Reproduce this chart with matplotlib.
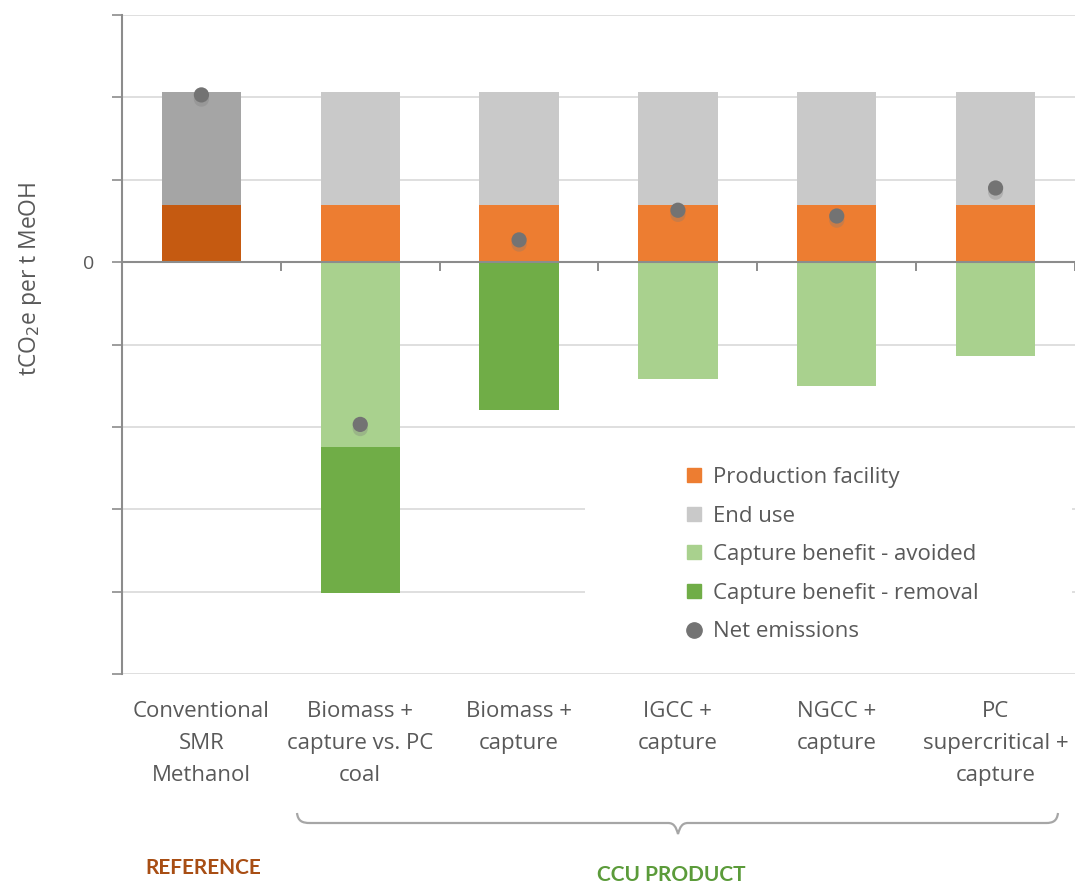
import matplotlib
matplotlib.use("Agg")
import matplotlib.pyplot as plt
import matplotlib.patheffects as pe
import matplotlib.transforms as mtransforms
from matplotlib.path import Path
from matplotlib.patches import PathPatch, Rectangle
from matplotlib.lines import Line2D
import numpy as np

# ---- data (tCO2e per t MeOH) ----
categories = ["Conventional\nSMR\nMethanol", "Biomass +\ncapture vs. PC\ncoal",
              "Biomass +\ncapture", "IGCC +\ncapture", "NGCC +\ncapture",
              "PC\nsupercritical +\ncapture"]
production = [0.69, 0.69, 0.69, 0.69, 0.69, 0.69]
end_use = [1.38, 1.38, 1.38, 1.38, 1.38, 1.38]
capture_avoided = [0.0, -2.24, 0.0, -1.42, -1.50, -1.14]
capture_removal = [0.0, -1.78, -1.80, 0.0, 0.0, 0.0]
net_emissions = [2.03, -1.97, 0.27, 0.63, 0.56, 0.90]
group_labels = ["REFERENCE", "CCU PRODUCT"]

FONT = ["Open Sans", "DejaVu Sans"]
plt.rcParams["font.family"] = FONT
TXT = "#595959"

C_PROD = "#ED7D31"
C_END = "#C9C9C9"
C_AVOID = "#A9D18E"
C_REMOVE = "#70AD47"
C_NET = "#737373"
C_PROD_REF = "#C55A11"
C_END_REF = "#A5A5A5"

W, H = 1075, 884
fig = plt.figure(figsize=(W / 100, H / 100), dpi=100)

def fx(px):
    return px / W

def fy(py):
    return 1 - py / H

ax = fig.add_axes([fx(122), fy(674), fx(1075) - fx(122), fy(15) - fy(674)])
ax.set_xlim(-0.5, 5.5)
ax.set_ylim(-5, 3)
ax.set_axisbelow(True)

x = np.arange(len(categories))
bw = 0.5
prod_colors = [C_PROD_REF] + [C_PROD] * 5
end_colors = [C_END_REF] + [C_END] * 5

ax.bar(x, production, bw, color=prod_colors, zorder=2)
ax.bar(x, end_use, bw, bottom=production, color=end_colors, zorder=2)
ax.bar(x, capture_avoided, bw, color=C_AVOID, zorder=2)
ax.bar(x, capture_removal, bw, bottom=capture_avoided, color=C_REMOVE, zorder=2)

ax.scatter(x, net_emissions, s=120, color=C_NET, zorder=4, linewidths=0,
           path_effects=[pe.SimplePatchShadow(offset=(0, -3), shadow_rgbFace="#7a7a7a",
                                              alpha=0.3), pe.Normal()])

# gridlines and axes
ax.set_yticks(np.arange(-5, 4, 1))
ax.set_yticklabels(["0" if v == 0 else "" for v in range(-5, 4)])
ax.grid(axis="y", color="#D9D9D9", linewidth=1.2, zorder=0.5)
ax.tick_params(axis="y", length=7, width=1.2, color="#8C8C8C", labelsize=14,
               labelcolor=TXT, pad=13)

for s in ["top", "right"]:
    ax.spines[s].set_visible(False)
ax.spines["left"].set_color("#8C8C8C")
ax.spines["left"].set_linewidth(1.5)
ax.spines["bottom"].set_position(("data", 0))
ax.spines["bottom"].set_color("#8C8C8C")
ax.spines["bottom"].set_linewidth(1.5)
ax.spines["bottom"].set_zorder(3)
ax.set_xticks([])
for xb in np.arange(0.5, 5.6, 1):
    ax.plot([xb, xb], [0, -0.09], color="#8C8C8C", lw=1.4, zorder=3, clip_on=False)

ax.set_ylabel("tCO$_2$e per t MeOH", fontsize=16.5, color=TXT)
ax.yaxis.set_label_coords(-0.082, 0.60)

# category labels under the plot
label_tf = mtransforms.blended_transform_factory(ax.transData, fig.transFigure)
for xi, lab in zip(x, categories):
    ax.text(xi, fy(701), lab, transform=label_tf,
            ha="center", va="top", fontsize=16, color=TXT, linespacing=1.68)

# legend area
ax.add_patch(Rectangle((fx(585), fy(660)), fx(1072) - fx(585), fy(440) - fy(660),
                       transform=fig.transFigure, facecolor="white", edgecolor="none",
                       zorder=1))
handles = [
    Line2D([], [], marker="s", ls="", color=C_PROD, markersize=10),
    Line2D([], [], marker="s", ls="", color=C_END, markersize=10),
    Line2D([], [], marker="s", ls="", color=C_AVOID, markersize=10),
    Line2D([], [], marker="s", ls="", color=C_REMOVE, markersize=10),
    Line2D([], [], marker="o", ls="", color=C_NET, markersize=11),
]
names = ["Production facility", "End use", "Capture benefit - avoided",
         "Capture benefit - removal", "Net emissions"]
leg = ax.legend(handles, names, loc="upper left",
                bbox_to_anchor=(fx(674), fy(456)), bbox_transform=fig.transFigure,
                frameon=False, fontsize=16, labelcolor=TXT, handlelength=0.8,
                handletextpad=0.45, labelspacing=0.79, borderpad=0)
leg.set_zorder(5)

# brace under the CCU product categories
def P(px, py):
    return (fx(px), fy(py))

verts = [P(297, 813), P(298, 821), P(302, 823), P(310, 823),
         P(668, 823),
         P(674, 823), P(676, 827), P(678, 834),
         P(680, 827), P(682, 823), P(688, 823),
         P(1046, 823),
         P(1053, 823), P(1057, 821), P(1058, 813)]
codes = [Path.MOVETO, Path.CURVE4, Path.CURVE4, Path.CURVE4,
         Path.LINETO,
         Path.CURVE4, Path.CURVE4, Path.CURVE4,
         Path.CURVE4, Path.CURVE4, Path.CURVE4,
         Path.LINETO,
         Path.CURVE4, Path.CURVE4, Path.CURVE4]
fig.add_artist(PathPatch(Path(verts, codes), transform=fig.transFigure,
                         facecolor="none", edgecolor="#A6A6A6", lw=1.6))

caption_font = ["Lato", "DejaVu Sans"]
fig.text(fx(203), fy(868), group_labels[0], ha="center", va="center",
         fontsize=15, fontweight="bold", color="#A84E14", family=caption_font)
fig.text(fx(671), fy(875), group_labels[1], ha="center", va="center",
         fontsize=15, fontweight="bold", color="#5B9B3A", family=caption_font)

fig.savefig("out.png", dpi=100, facecolor="white")
